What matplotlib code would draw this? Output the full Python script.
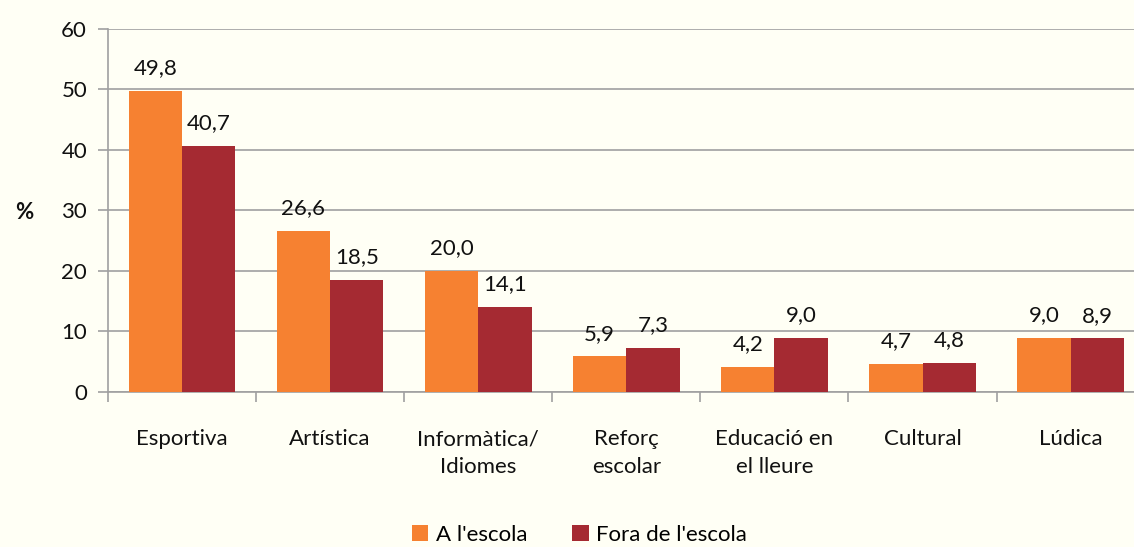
import matplotlib
matplotlib.use("Agg")
import matplotlib.pyplot as plt
import numpy as np

categories = ["Esportiva", "Artística", "Informàtica/\nIdiomes", "Reforç\nescolar",
              "Educació en\nel lleure", "Cultural", "Lúdica"]
a_escola = [49.8, 26.6, 20.0, 5.9, 4.2, 4.7, 9.0]
fora_escola = [40.7, 18.5, 14.1, 7.3, 9.0, 4.8, 8.9]
series_names = ["A l'escola", "Fora de l'escola"]
colors = ["#F68131", "#A52A32"]
bg = "#FFFFF5"

plt.rcParams['font.family'] = ['Lato', 'DejaVu Sans']
FS = 16

fig = plt.figure(figsize=(11.34, 5.47), dpi=100, facecolor=bg)
ax = fig.add_axes([0.0952, 0.2834, 0.9142, 0.6636], facecolor=bg)

x = np.arange(len(categories))
w = 0.36
b1 = ax.bar(x - w/2, a_escola, w, color=colors[0], label=series_names[0], zorder=3)
b2 = ax.bar(x + w/2, fora_escola, w, color=colors[1], label=series_names[1], zorder=3)

def fmt(v):
    return f"{v:.1f}".replace(".", ",")

for bars, vals in ((b1, a_escola), (b2, fora_escola)):
    for r, v in zip(bars, vals):
        ax.annotate(fmt(v), (r.get_x() + r.get_width()/2, v), xytext=(0, 9),
                    textcoords="offset points", ha="center", va="bottom", fontsize=FS, color="#111111")

ax.set_xlim(-0.5, len(categories) - 0.5)
ax.set_ylim(0, 60)
ax.set_yticks(range(0, 61, 10))
ax.yaxis.grid(True, color="#A0A0A0", linewidth=1.2, zorder=0)
ax.set_axisbelow(True)

ax.set_xticks(x)
ax.set_xticklabels(categories, fontsize=FS, color="#111111", linespacing=1.45)
ax.tick_params(axis="x", length=0, pad=27)
ax.set_xticks(np.arange(-0.5, len(categories) - 0.4, 1), minor=True)
ax.tick_params(axis="x", which="minor", length=7, color="#A0A0A0", width=1.2)
ax.tick_params(axis="y", labelsize=FS, labelcolor="#111111", length=7, color="#A0A0A0", width=1.2, pad=8)

for s in ("top", "right"):
    ax.spines[s].set_visible(False)
for s in ("left", "bottom"):
    ax.spines[s].set_color("#A0A0A0")
    ax.spines[s].set_linewidth(1.2)

fig.text(0.013, 0.612, "%", fontsize=FS, fontweight="bold", ha="left", va="center", color="#111111")

fig.legend(handles=[b1, b2], labels=series_names, loc="center", bbox_to_anchor=(0.511, 0.022),
           ncol=2, frameon=False, fontsize=FS, handlelength=0.75, handleheight=0.75,
           handletextpad=0.35, columnspacing=2.0)

fig.savefig("out.png", dpi=100, facecolor=bg)
